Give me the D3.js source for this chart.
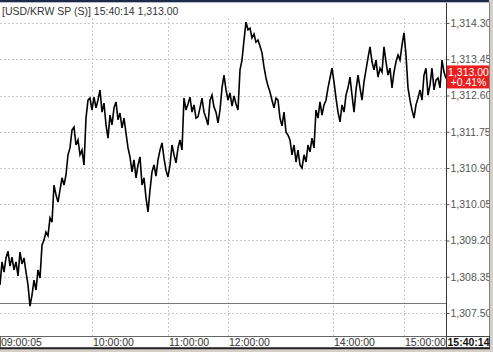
<!DOCTYPE html>
<html><head><meta charset="utf-8">
<script src="https://cdn.jsdelivr.net/npm/d3@7/dist/d3.min.js"></script>
<style>
html,body{margin:0;padding:0;background:#fff;overflow:hidden}
svg{display:block}
text{font-family:"Liberation Sans",Arial,sans-serif}
</style></head>
<body>
<svg id="c" width="493" height="352"></svg>
<script>
// ---- data ----
const titleText = "[USD/KRW SP (S)] 15:40:14  1,313.00";
const prices = [
1308.16,1308.70,1308.46,1308.79,1308.95,1308.60,1308.81,1308.51,1308.70,1308.37,
1308.93,1308.65,1308.79,1308.46,1308.16,1307.66,1307.92,1308.27,1308.04,1308.51,
1308.32,1309.09,1309.21,1309.40,1309.31,1309.73,1309.63,1310.50,1310.27,1310.10,
1310.38,1310.67,1310.50,1310.74,1311.21,1311.37,1311.79,1311.86,1311.44,1311.56,
1311.21,1311.32,1310.97,1312.07,1312.49,1312.54,1312.26,1312.56,1312.31,1312.49,
1312.73,1312.21,1312.42,1311.91,1311.60,1312.14,1311.91,1312.31,1312.45,1312.03,
1312.19,1311.84,1312.07,1311.72,1311.37,1311.16,1310.81,1311.09,1310.67,1310.97,
1311.16,1310.50,1310.67,1310.20,1309.87,1310.38,1310.81,1310.97,1310.71,1311.09,
1311.32,1311.49,1311.13,1310.85,1310.69,1310.97,1311.44,1311.21,1311.02,1311.37,
1311.56,1311.32,1312.54,1312.26,1312.40,1312.56,1312.21,1312.38,1312.07,1312.10,
1312.31,1312.54,1312.21,1312.07,1311.91,1312.49,1312.61,1312.33,1312.21,1311.96,
1312.26,1312.78,1313.08,1312.73,1312.49,1312.66,1312.35,1312.59,1312.40,1312.26,
1313.20,1313.43,1313.90,1314.32,1314.14,1314.18,1313.95,1314.04,1313.85,1313.90,
1313.76,1313.60,1313.27,1313.01,1312.82,1312.68,1312.49,1312.31,1312.54,1312.49,
1312.07,1311.89,1312.21,1311.74,1311.67,1311.56,1311.21,1311.44,1311.04,1311.32,
1310.97,1310.90,1311.21,1311.04,1311.44,1311.28,1311.60,1311.37,1312.26,1312.07,
1312.45,1312.14,1312.38,1312.49,1312.78,1313.01,1313.24,1312.92,1312.54,1312.21,
1311.98,1312.38,1312.21,1312.61,1312.78,1313.03,1312.61,1312.21,1312.73,1313.08,
1312.78,1312.49,1312.92,1313.20,1313.48,1313.74,1313.39,1313.20,1313.43,1313.03,
1313.24,1313.15,1313.74,1313.39,1313.08,1313.24,1312.78,1313.15,1313.39,1313.55,
1313.43,1313.78,1314.07,1313.55,1312.78,1312.49,1312.26,1312.07,1312.38,1312.54,
1312.73,1312.49,1313.08,1313.24,1312.61,1312.85,1313.24,1312.73,1312.96,1313.01,
1312.78,1313.43,1313.15,1313.00
];
const yTicks = [1307.50,1308.35,1309.20,1310.05,1310.90,1311.75,1312.60,1313.45,1314.30];
const xTickIdx = [0,46,84,114,166.5,202];
const xTickLabels = ["09:00:05","10:00:00","11:00:00","12:00:00","14:00:00","15:00:00"];
const lastTime = "15:40:14";
const lastPrice = 1313.00;
const changeText = "+0.41%";
const prevClose = 1307.74;

// ---- layout ----
const svg = d3.select("#c");
const plotL = 0, plotR = 446, plotT = 18, plotB = 336;
const x = d3.scaleLinear().domain([0, prices.length - 1]).range([plotL, plotR]);
const y = d3.scaleLinear().domain([1307.50, 1314.30]).range([313, 23]);
const fmt = d3.format(",.2f");

// top border
svg.append("rect").attr("x",0).attr("y",0).attr("width",493).attr("height",2).attr("fill","#1e2a4a");
svg.append("line").attr("x1",0).attr("x2",493).attr("y1",2.5).attr("y2",2.5).attr("stroke","#b8bcc8");

// grid
const grid = svg.append("g");
grid.selectAll("line.h").data(yTicks).join("line")
  .attr("x1",plotL).attr("x2",plotR)
  .attr("y1",d=>Math.round(y(d))+0.5).attr("y2",d=>Math.round(y(d))+0.5)
  .attr("stroke","#c8c8c8").attr("stroke-dasharray","2,2");
grid.selectAll("line.v").data(xTickIdx.slice(1)).join("line")
  .attr("x1",d=>Math.round(x(d))+0.5).attr("x2",d=>Math.round(x(d))+0.5)
  .attr("y1",plotT).attr("y2",plotB)
  .attr("stroke","#c8c8c8").attr("stroke-dasharray","2,2");

// previous close reference line
svg.append("line").attr("x1",plotL).attr("x2",plotR)
  .attr("y1",Math.round(y(prevClose))+0.5).attr("y2",Math.round(y(prevClose))+0.5)
  .attr("stroke","#7a7a7a");

// price line
const line = d3.line().x((d,i)=>x(i)).y(d=>y(d));
svg.append("path").datum(prices).attr("d",line)
  .attr("fill","none").attr("stroke","#000").attr("stroke-width",1.6).attr("stroke-linejoin","miter");

// right axis
svg.append("line").attr("x1",plotR+0.5).attr("x2",plotR+0.5).attr("y1",3).attr("y2",plotB)
  .attr("stroke","#333");
const yAxis = d3.axisRight(y).tickValues(yTicks).tickSize(3).tickPadding(1).tickFormat(fmt);
const ya = svg.append("g").attr("transform",`translate(${plotR+0.5},0)`).call(yAxis);
ya.select(".domain").remove();
ya.selectAll(".tick line").attr("stroke","#555");
ya.selectAll(".tick text").attr("fill","#555").style("font-size","10.5px").style("font-family","Liberation Sans, Arial, sans-serif");

// last price box
const ly = y(lastPrice);
svg.append("rect").attr("x",plotR+1).attr("y",ly-13).attr("width",43).attr("height",23).attr("fill","#ee1c1c");
svg.append("text").attr("x",plotR+22.5).attr("y",ly-2.5).attr("text-anchor","middle")
  .attr("fill","#fff").style("font-size","10.5px").text(fmt(lastPrice));
svg.append("text").attr("x",plotR+22.5).attr("y",ly+8).attr("text-anchor","middle")
  .attr("fill","#fff").style("font-size","10.5px").text(changeText);

// title
svg.append("text").attr("x",2).attr("y",15).attr("fill","#333").style("font-size","10.5px").text(titleText);

// right border
svg.append("rect").attr("x",489).attr("y",0).attr("width",4).attr("height",352).attr("fill","#d4d0c8");
svg.append("line").attr("x1",489.5).attr("x2",489.5).attr("y1",2).attr("y2",350).attr("stroke","#808080");

// bottom axis box
svg.append("rect").attr("x",0.5).attr("y",plotB+0.5).attr("width",489).attr("height",11)
  .attr("fill","#fff").attr("stroke","#666");
svg.append("rect").attr("x",0).attr("y",348).attr("width",493).attr("height",4).attr("fill","#d4d0c8");
svg.append("line").attr("x1",0).attr("x2",490).attr("y1",348.5).attr("y2",348.5).attr("stroke","#222").attr("stroke-width",1.5);

const xa = svg.append("g");
xa.selectAll("text").data(xTickIdx).join("text")
  .attr("x",(d,i)=> i===0 ? 1 : Math.round(x(d))+1)
  .attr("y",346).attr("fill","#333").style("font-size","10.5px")
  .text((d,i)=>xTickLabels[i]);
svg.append("rect").attr("x",plotR+0.5).attr("y",plotB+0.5).attr("width",43).attr("height",11)
  .attr("fill","#fff").attr("stroke","#444");
svg.append("text").attr("x",plotR+22.5).attr("y",346).attr("text-anchor","middle")
  .attr("fill","#111").style("font-size","10.5px").style("font-weight","bold").text(lastTime);
</script>
</body></html>
